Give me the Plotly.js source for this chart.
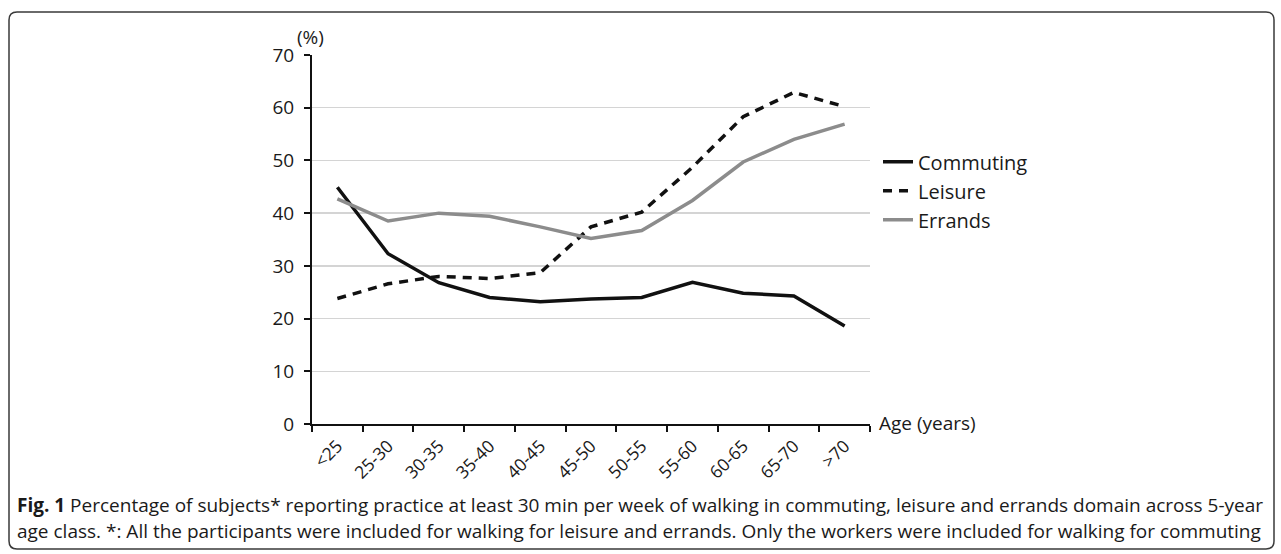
<!DOCTYPE html>
<html>
<head>
<meta charset="utf-8">
<script src="https://cdn.plot.ly/plotly-3.0.1.min.js"></script>
<style>html,body{margin:0;padding:0;background:#fff;} #chart{width:1281px;height:554px;}</style>
</head>
<body>
<div id="chart"></div>
<script>
var categories = ['<25','25-30','30-35','35-40','40-45','45-50','50-55','55-60','60-65','65-70','>70'];
var commuting = [44.9, 32.3, 26.8, 24.0, 23.2, 23.7, 24.0, 26.9, 24.8, 24.3, 18.6];
var leisure   = [23.8, 26.6, 28.0, 27.6, 28.7, 37.4, 40.2, 48.7, 58.3, 62.9, 60.2];
var errands   = [42.7, 38.5, 40.0, 39.4, 37.4, 35.2, 36.7, 42.4, 49.7, 54.0, 56.9];
var yTicks = [0,10,20,30,40,50,60,70];
var captionBold = 'Fig. 1';
var captionLine1 = ' Percentage of subjects* reporting practice at least 30 min per week of walking in commuting, leisure and errands domain across 5-year';
var captionLine2 = 'age class. *: All the participants were included for walking for leisure and errands. Only the workers were included for walking for commuting';

var W = 1281, H = 554;
var L = 312, R = 870, T = 54.7, B = 424;
function px(x){ return (x - L) / (R - L); }
function py(y){ return (B - y) / (B - T); }

var font = 'Open Sans, Noto Sans, sans-serif';

var traces = [
  {x: categories, y: commuting, name: 'Commuting', type: 'scatter', mode: 'lines',
   line: {color: '#111111', width: 3.5}},
  {x: categories, y: leisure, name: 'Leisure', type: 'scatter', mode: 'lines',
   line: {color: '#111111', width: 3.5, dash: '9px,7px'}},
  {x: categories, y: errands, name: 'Errands', type: 'scatter', mode: 'lines',
   line: {color: '#8c8c8c', width: 3.5}}
];

var rx = 8 / (R - L), ry = 8 / (B - T);
var bx0 = px(9), bx1 = px(1274), by0 = py(549), by1 = py(11.7);
var borderPath = 'M' + (bx0 + rx) + ',' + by1 +
  ' L' + (bx1 - rx) + ',' + by1 +
  ' Q' + bx1 + ',' + by1 + ' ' + bx1 + ',' + (by1 - ry) +
  ' L' + bx1 + ',' + (by0 + ry) +
  ' Q' + bx1 + ',' + by0 + ' ' + (bx1 - rx) + ',' + by0 +
  ' L' + (bx0 + rx) + ',' + by0 +
  ' Q' + bx0 + ',' + by0 + ' ' + bx0 + ',' + (by0 + ry) +
  ' L' + bx0 + ',' + (by1 - ry) +
  ' Q' + bx0 + ',' + by1 + ' ' + (bx0 + rx) + ',' + by1 + ' Z';

var layout = {
  width: W, height: H,
  margin: {l: L, r: W - R, t: T, b: H - B, pad: 0},
  paper_bgcolor: '#ffffff', plot_bgcolor: '#ffffff',
  font: {family: font, size: 18, color: '#1a1a1a'},
  showlegend: true,
  legend: {x: px(878), y: py(142), xanchor: 'left', yanchor: 'top',
           font: {family: font, size: 20, color: '#1a1a1a'},
           bgcolor: 'rgba(0,0,0,0)', itemwidth: 30, tracegroupgap: 0},
  xaxis: {
    type: 'category', range: [-0.5, 10.5], showgrid: false, zeroline: false,
    showline: true, linecolor: '#111', linewidth: 2,
    ticks: 'outside', tickson: 'boundaries', ticklen: 6, tickwidth: 2, tickcolor: '#111',
    tickangle: -45, tickfont: {family: font, size: 17.5, color: '#1a1a1a'},
    ticklabelstandoff: 3,
    fixedrange: true
  },
  yaxis: {
    range: [0, 70], tickvals: yTicks, showgrid: true, gridcolor: '#d4d4d4', gridwidth: 1.5,
    zeroline: false, showline: true, linecolor: '#111', linewidth: 2,
    ticks: 'outside', ticklen: 6, tickwidth: 2, tickcolor: '#111',
    tickfont: {family: font, size: 19, color: '#1a1a1a'}, ticklabelstandoff: 6,
    fixedrange: true
  },
  shapes: [
    {type: 'path', xref: 'paper', yref: 'paper', path: borderPath,
     line: {color: '#3a3a3a', width: 1.5}, fillcolor: 'rgba(0,0,0,0)', layer: 'below'}
  ],
  annotations: [
    {text: '(%)', xref: 'paper', yref: 'paper', x: px(310), y: py(37),
     xanchor: 'center', yanchor: 'middle', showarrow: false,
     font: {family: font, size: 19, color: '#1a1a1a'}},
    {text: 'Age (years)', xref: 'paper', yref: 'paper', x: px(877), y: py(423),
     xanchor: 'left', yanchor: 'middle', showarrow: false,
     font: {family: font, size: 19, color: '#1a1a1a'}},
    {text: '<b>' + captionBold + '</b>' + captionLine1, xref: 'paper', yref: 'paper',
     x: px(15), y: py(505), xanchor: 'left', yanchor: 'middle', showarrow: false, align: 'left',
     font: {family: font, size: 19, color: '#1a1a1a'}},
    {text: captionLine2, xref: 'paper', yref: 'paper',
     x: px(15), y: py(531), xanchor: 'left', yanchor: 'middle', showarrow: false, align: 'left',
     font: {family: font, size: 19, color: '#1a1a1a'}}
  ]
};

Plotly.newPlot('chart', traces, layout, {displayModeBar: false, staticPlot: true});
</script>
</body>
</html>
